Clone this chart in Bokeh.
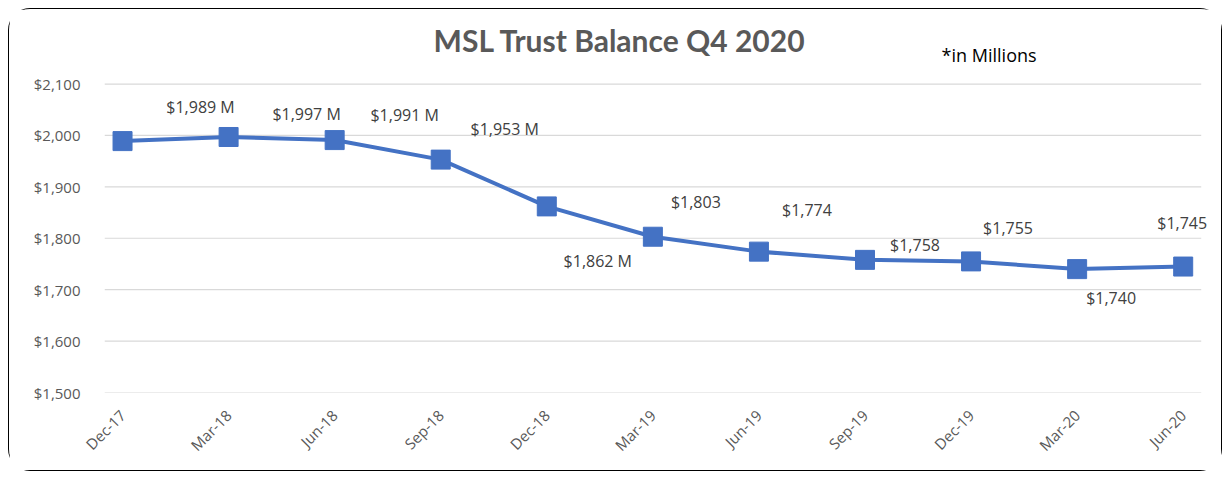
import math
from bokeh.plotting import figure
from bokeh.models import (ColumnDataSource, FixedTicker, NumeralTickFormatter, Label, Range1d)
from bokeh.embed import file_html
from bokeh.resources import INLINE

# ---- data ----
quarters = ["Dec-17", "Mar-18", "Jun-18", "Sep-18", "Dec-18", "Mar-19",
            "Jun-19", "Sep-19", "Dec-19", "Mar-20", "Jun-20"]
balance = [1989, 1997, 1991, 1953, 1862, 1803, 1774, 1758, 1755, 1740, 1745]
label_suffix = [" M", " M", " M", " M", " M", "", "", "", "", "", ""]
y_ticks = [1500, 1600, 1700, 1800, 1900, 2000, 2100]
title_text = "MSL Trust Balance Q4 2020"
note_text = "*in Millions"

# label placement offsets (screen px) - style only
lab_dx = [78, 78, 70, 64, 51, 43, 48, 50, 37, 34, -1]
lab_dy = [34, 23, 25, 31, -55, 35, 42, 15, 33, -29, 44]

xs = list(range(len(quarters)))
labels = ["${:,}{}".format(v, s) for v, s in zip(balance, label_suffix)]

src = ColumnDataSource(dict(x=xs, y=balance))

# plotting area of the chart: x from -0.17 to 10.17, y from 1500 to 2100;
# the frame is extended upward/rightward so that title and labels are not clipped
X0, X1 = -0.17, 10.17
p = figure(width=1214, height=463, output_backend="svg", toolbar_location=None,
           x_range=Range1d(X0, 10.38), y_range=Range1d(1500, 2245),
           min_border_left=95, min_border_right=0, min_border_top=0, min_border_bottom=80)
p.margin = (8, 8, 8, 8)
p.styles = {"border": "1.5px solid #000000", "border-radius": "22px"}
p.outline_line_color = None
p.background_fill_color = "white"
p.border_fill_color = "white"

p.xgrid.grid_line_color = None
p.ygrid.grid_line_color = None
p.segment(x0=[X0] * len(y_ticks), y0=y_ticks, x1=[X1] * len(y_ticks), y1=y_ticks,
          line_color="#d9d9d9", line_width=1.2)

p.yaxis.ticker = FixedTicker(ticks=y_ticks)
p.yaxis.formatter = NumeralTickFormatter(format="$0,0")
p.xaxis.ticker = FixedTicker(ticks=xs)
p.xaxis.major_label_overrides = {i: q for i, q in enumerate(quarters)}
p.xaxis.major_label_orientation = math.pi / 4

for ax in (p.xaxis, p.yaxis):
    ax.axis_line_color = None
    ax.major_tick_line_color = None
    ax.minor_tick_line_color = None
    ax.major_label_text_font = "Open Sans"
    ax.major_label_text_font_size = "15px"
    ax.major_label_text_color = "#595959"
p.yaxis.major_label_standoff = 18
p.xaxis.major_label_standoff = 14

p.line("x", "y", source=src, line_color="#4472C4", line_width=4)
p.scatter("x", "y", source=src, marker="square", size=19, fill_color="#4472C4", line_color="#4472C4")

for xv, yv, txt, dx, dy in zip(xs, balance, labels, lab_dx, lab_dy):
    p.add_layout(Label(x=xv, y=yv, text=txt, x_offset=dx, y_offset=dy,
                       text_align="center", text_baseline="middle", text_font="Open Sans",
                       text_font_size="16px", text_color="#404040"))

p.add_layout(Label(x=4.69, y=2185, text=title_text,
                   text_align="center", text_baseline="middle", text_font="Lato",
                   text_font_style="bold", text_font_size="30px", text_color="#595959"))
p.add_layout(Label(x=8.17, y=2156, text=note_text,
                   text_align="center", text_baseline="middle", text_font="Open Sans",
                   text_font_size="18px", text_color="#000000"))

open("out.html", "w").write(file_html(p, INLINE))
